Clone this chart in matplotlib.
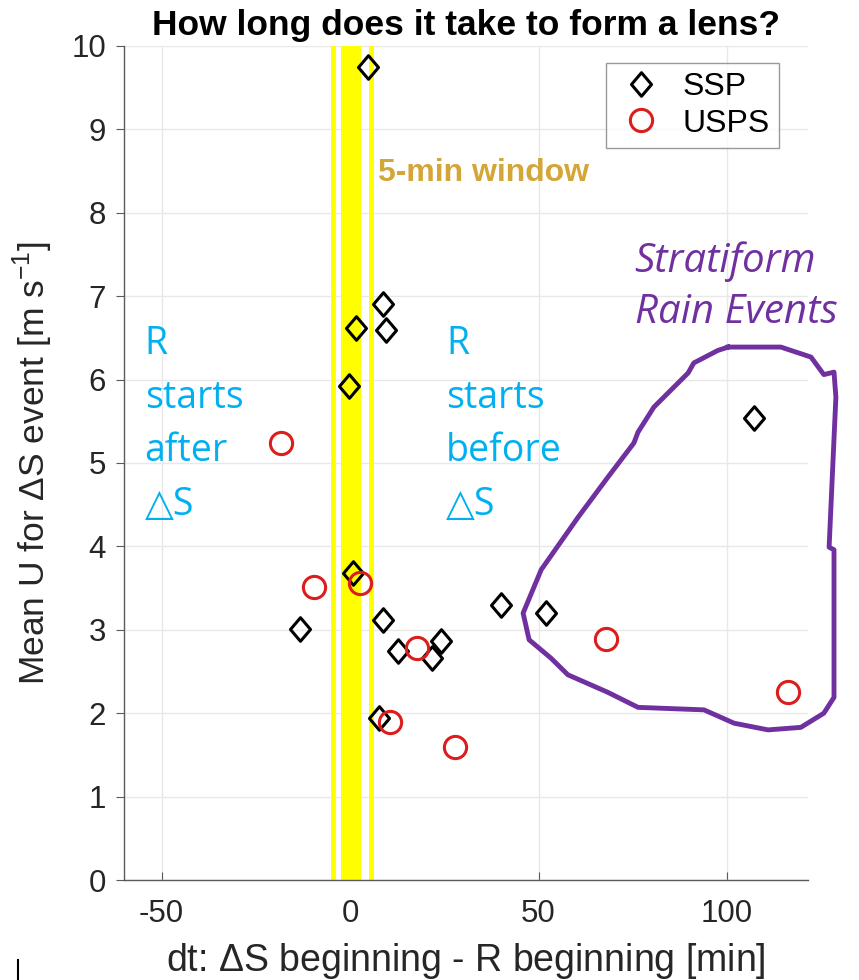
import numpy as np
import matplotlib
matplotlib.use("Agg")
from matplotlib import pyplot as plt
from matplotlib.path import Path
from matplotlib.lines import Line2D

plt.rcParams['axes.unicode_minus'] = False
plt.rcParams['mathtext.fontset'] = 'custom'
plt.rcParams['mathtext.rm'] = 'Liberation Sans'

# dt (min) and mean U (m/s) for each lens event
ssp_dt = [4.7, 8.7, 1.6, 9.5, -0.4, 107.2, 0.7, 40.1, 52.0, -13.4, 8.7, 12.6, 24.0, 21.8, 7.6]
ssp_u = [9.75, 6.91, 6.62, 6.59, 5.92, 5.54, 3.68, 3.30, 3.20, 3.01, 3.12, 2.74, 2.87, 2.66, 1.94]

usps_dt = [-18.3, -9.5, 2.5, 17.7, 10.6, 27.7, 67.9, 116.3]
usps_u = [5.24, 3.51, 3.56, 2.78, 1.89, 1.59, 2.89, 2.25]

# 5-min window shading
win_lines = [-4.5, 5.5]
win_band = [-2.4, 2.9]

# hand drawn loop around the stratiform cases
loop_dt = [100.3, 114.3, 122.3, 125.7, 128.4, 128.9, 127.1, 128.4, 128.4, 125.7, 119.6,
           110.9, 101.9, 93.9, 76.4, 68.4, 57.8, 53.3, 47.5, 45.9, 50.7, 60.5, 68.4,
           75.3, 76.4, 80.6, 89.7, 91.2, 97.6, 100.3]
loop_u = [6.39, 6.39, 6.27, 6.06, 6.09, 5.79, 3.99, 3.96, 2.19, 2.00, 1.83,
          1.80, 1.88, 2.04, 2.07, 2.25, 2.46, 2.66, 2.88, 3.20, 3.72, 4.35, 4.83,
          5.24, 5.37, 5.67, 6.08, 6.20, 6.35, 6.39]

xticks = [-50, 0, 50, 100]
yticks = list(range(0, 11))

W, H = 859, 980
fig = plt.figure(figsize=(W / 100, H / 100), dpi=100)
ax = fig.add_axes([124 / W, 1 - 880 / H, (808 - 124) / W, (880 - 46) / H])

helv = ['Liberation Sans', 'DejaVu Sans']
calib = ['Open Sans', 'DejaVu Sans']

ax.axvspan(win_band[0], win_band[1], color='#FFFF00', lw=0, zorder=1)
for xv in win_lines:
    ax.axvline(xv, color='#FFFF00', lw=3.5, zorder=1)

diamond = Path([(0, 1), (0.85, 0), (0, -1), (-0.85, 0), (0, 1)],
               [Path.MOVETO, Path.LINETO, Path.LINETO, Path.LINETO, Path.CLOSEPOLY])

ax.plot(ssp_dt, ssp_u, ls='none', marker=diamond, ms=17, mfc='none', mec='black',
        mew=2.2, label='SSP', zorder=3)
ax.plot(usps_dt, usps_u, ls='none', marker='o', ms=16, mfc='none', mec='#DD1C1C',
        mew=2.2, label='USPS', zorder=4)

ax.set_xlim(-60, 121.5)
ax.set_ylim(0, 10)
ax.set_xticks(xticks)
ax.set_yticks(yticks)
ax.grid(True, color='#E8E8E8', lw=1)
ax.set_axisbelow(True)
for s in ['top', 'right']:
    ax.spines[s].set_visible(False)
for s in ['left', 'bottom']:
    ax.spines[s].set_color('#5A5A5A')
    ax.spines[s].set_linewidth(1)
ax.tick_params(axis='x', direction='in', length=6, color='#5A5A5A', pad=14)
ax.tick_params(axis='y', direction='out', length=6, color='#5A5A5A', pad=7)
for lab in ax.get_xticklabels() + ax.get_yticklabels():
    lab.set_family(helv)
    lab.set_fontsize(22.5)
    lab.set_color('#262626')

ax.set_xlabel(r'dt: $\Delta$S beginning - R beginning [min]', fontsize=27, family=helv,
              color='#262626', labelpad=8)
ax.set_ylabel(r'Mean U for $\Delta$S event [m s$^{-1}$]', fontsize=25.5, family=helv,
              color='#262626', labelpad=12)

ax.set_title('How long does it take to form a lens?', fontsize=25.5, fontweight='bold',
             family=helv, pad=8)

leg = ax.legend(loc='upper right', bbox_to_anchor=(0.958, 0.98), borderaxespad=0,
                prop={'family': helv, 'size': 23}, frameon=True, fancybox=False,
                handlelength=1.6, handletextpad=0.5, borderpad=0.3, labelspacing=0.2)
leg.get_frame().set_edgecolor('#808080')
leg.get_frame().set_linewidth(1)

ax.text(7.5, 8.48, '5-min window', fontsize=23, fontweight='bold', color='#D4A537',
        family=helv, va='center', ha='left', zorder=5)

ax.text(-54.5, 6.66, 'R\nstarts\nafter\n\u25B3S', fontsize=27, color='#00B0F0',
        family=calib, va='top', ha='left', linespacing=1.55, zorder=5)
ax.text(25.5, 6.66, 'R\nstarts\nbefore\n\u25B3S', fontsize=27, color='#00B0F0',
        family=calib, va='top', ha='left', linespacing=1.55, zorder=5)

ax.text(75.5, 7.66, 'Stratiform\nRain Events', fontsize=29, color='#7030A0',
        family=calib, style='italic', va='top', ha='left', linespacing=1.35,
        zorder=5, clip_on=False)

ax.plot(loop_dt, loop_u, color='#7030A0', lw=3.5, solid_joinstyle='round',
        zorder=5, clip_on=False)

fig.add_artist(Line2D([18 / W, 18 / W], [0, 20 / H], color='black', lw=1.5))

fig.savefig('out.png', dpi=100)
